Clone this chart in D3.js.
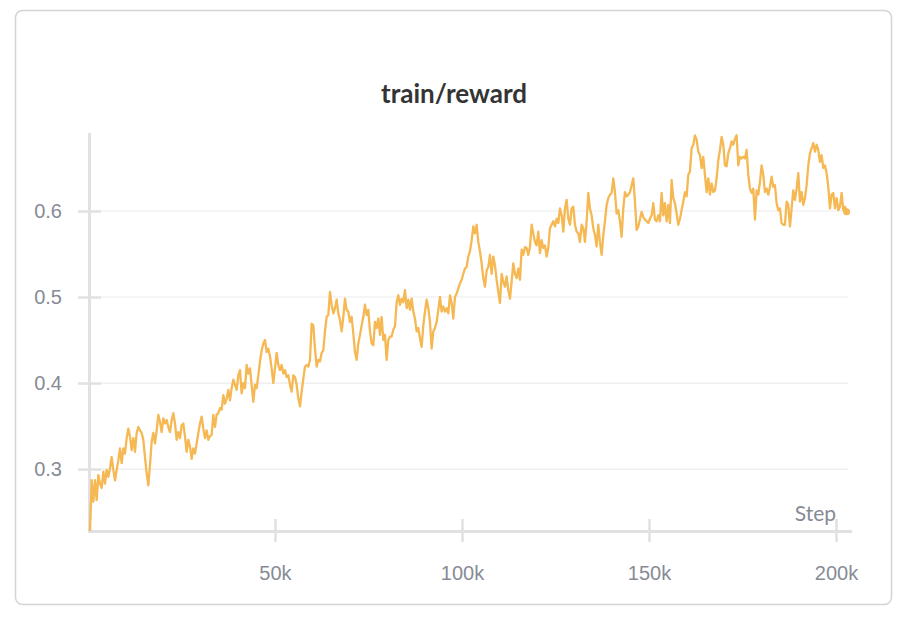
<!DOCTYPE html>
<html>
<head>
<meta charset="utf-8">
<script src="https://cdn.jsdelivr.net/npm/d3@7"></script>
<style>
  html, body { margin: 0; padding: 0; background: #fff; }
  svg { display: block; font-family: "Source Sans Pro", "Lato", "Noto Sans", sans-serif; }
</style>
</head>
<body>
<svg id="chart" width="900" height="620"></svg>
<script>
// ---- data ----
const title = "train/reward";
const xLabel = "Step";
const firstStep = 535;
const stepInterval = 445.6;

const rewardSeg1 = [
  0.228, 0.287, 0.262, 0.287, 0.264, 0.293, 0.283, 0.278, 0.297, 0.283,
  0.299, 0.291, 0.301, 0.314, 0.299, 0.287, 0.299, 0.310, 0.324, 0.307,
  0.324, 0.318, 0.336, 0.347, 0.338, 0.322, 0.336, 0.320, 0.342, 0.349,
  0.345, 0.342, 0.334, 0.314, 0.295, 0.281, 0.305, 0.332, 0.342, 0.330,
  0.345, 0.363, 0.355, 0.343, 0.359, 0.353, 0.357, 0.349, 0.343, 0.357,
  0.365, 0.353, 0.334, 0.343, 0.336, 0.351, 0.353, 0.338, 0.320, 0.334,
  0.326, 0.312, 0.324, 0.318, 0.330, 0.342, 0.353, 0.361, 0.347, 0.336,
  0.345, 0.334, 0.338, 0.340, 0.363, 0.349, 0.363, 0.365, 0.371, 0.369,
  0.386, 0.376, 0.382, 0.392, 0.380, 0.394, 0.404, 0.398, 0.392, 0.409,
  0.415, 0.388, 0.400, 0.394
];
const rewardSeg2 = [
  0.421, 0.411, 0.417, 0.398, 0.378, 0.398, 0.394, 0.409, 0.425, 0.438,
  0.446, 0.450, 0.436, 0.440, 0.431, 0.417, 0.400, 0.417, 0.435, 0.421,
  0.415, 0.421, 0.411, 0.415, 0.407, 0.409, 0.398, 0.390, 0.409, 0.407,
  0.398, 0.382, 0.373, 0.390, 0.405, 0.419, 0.421, 0.419, 0.427, 0.469,
  0.467, 0.440, 0.419, 0.427, 0.425, 0.435, 0.438, 0.460, 0.477, 0.479,
  0.506, 0.491, 0.481, 0.487, 0.497, 0.481, 0.473, 0.460, 0.477, 0.498,
  0.485, 0.483, 0.471, 0.477, 0.458, 0.436, 0.427, 0.446, 0.456, 0.467,
  0.477, 0.491, 0.479, 0.485, 0.460, 0.446, 0.444, 0.471, 0.464, 0.475,
  0.456, 0.477, 0.450, 0.456, 0.427, 0.450, 0.454, 0.454, 0.462, 0.466
];
const rewardSeg3 = [
  0.494, 0.502, 0.491, 0.498, 0.494, 0.508, 0.487, 0.497, 0.485, 0.498,
  0.483, 0.475, 0.460, 0.464, 0.452, 0.442, 0.467, 0.483, 0.497, 0.487,
  0.471, 0.440, 0.460, 0.464, 0.471, 0.485, 0.500, 0.483, 0.489, 0.483,
  0.487, 0.481, 0.502, 0.493, 0.475, 0.500, 0.504, 0.510, 0.516, 0.520,
  0.527, 0.533, 0.535, 0.547, 0.553, 0.566, 0.582, 0.574, 0.584, 0.564,
  0.553, 0.539, 0.522, 0.512, 0.531, 0.535, 0.549, 0.527, 0.547, 0.537,
  0.520, 0.506, 0.493, 0.527, 0.518, 0.512, 0.524, 0.508, 0.498, 0.518,
  0.539, 0.527, 0.522, 0.533, 0.520, 0.555, 0.549, 0.558, 0.557, 0.549,
  0.558, 0.584, 0.574, 0.564, 0.560, 0.576, 0.551, 0.566, 0.557, 0.560
];
const rewardSeg4 = [
  0.547, 0.557, 0.580, 0.584, 0.588, 0.582, 0.591, 0.586, 0.603, 0.595,
  0.576, 0.603, 0.613, 0.591, 0.584, 0.603, 0.605, 0.584, 0.576, 0.574,
  0.564, 0.584, 0.580, 0.564, 0.588, 0.621, 0.603, 0.595, 0.580, 0.572,
  0.559, 0.584, 0.564, 0.549, 0.572, 0.588, 0.607, 0.615, 0.619, 0.621,
  0.638, 0.622, 0.597, 0.601, 0.588, 0.570, 0.603, 0.622, 0.617, 0.619,
  0.622, 0.630, 0.638, 0.611, 0.578, 0.582, 0.590, 0.599, 0.593, 0.590,
  0.588, 0.586, 0.591, 0.595, 0.609, 0.590, 0.588, 0.595, 0.588, 0.621,
  0.595, 0.609, 0.588, 0.607, 0.586, 0.636, 0.615, 0.609, 0.597, 0.584,
  0.591, 0.601, 0.611, 0.622, 0.617, 0.642, 0.646, 0.673, 0.677, 0.688
];
const rewardSeg5 = [
  0.683, 0.669, 0.665, 0.650, 0.663, 0.642, 0.622, 0.638, 0.619, 0.632,
  0.622, 0.624, 0.638, 0.659, 0.671, 0.686, 0.677, 0.653, 0.652, 0.667,
  0.673, 0.681, 0.677, 0.684, 0.688, 0.653, 0.663, 0.661, 0.663, 0.661,
  0.671, 0.642, 0.626, 0.621, 0.626, 0.590, 0.624, 0.619, 0.634, 0.653,
  0.642, 0.622, 0.626, 0.619, 0.628, 0.640, 0.628, 0.630, 0.609, 0.601,
  0.603, 0.586, 0.584, 0.584, 0.611, 0.607, 0.582, 0.603, 0.624, 0.613,
  0.626, 0.644, 0.611, 0.622, 0.607, 0.615, 0.630, 0.653, 0.667, 0.673,
  0.679, 0.669, 0.677, 0.671, 0.657, 0.665, 0.650, 0.653, 0.644, 0.628,
  0.603, 0.619, 0.621, 0.603, 0.615, 0.601, 0.605, 0.621, 0.601, 0.605,
  0.599
];
const yTicks = [0.3, 0.4, 0.5, 0.6];
const yTickLabels = ["0.3", "0.4", "0.5", "0.6"];
const xTicks = [50000, 100000, 150000, 200000];
const xTickLabels = ["50k", "100k", "150k", "200k"];

// ---- build series ----
const rewards = [].concat(rewardSeg1, rewardSeg2, rewardSeg3, rewardSeg4, rewardSeg5);
const steps = rewards.map((_, i) => Math.round(firstStep + i * stepInterval));
const data = steps.map((s, i) => ({ step: s, reward: rewards[i] }));

// ---- layout ----
const svg = d3.select("#chart");
const lineColor = "#f5b852";
const axisColor = "#e1e1e3";
const gridColor = "#ebebed";
const labelColor = "#868b95";

const x = d3.scaleLinear().domain([535, 204278]).range([90, 852]);
const y = d3.scaleLinear().domain([0.228, 0.6895]).range([531, 134]);

// card
svg.append("rect")
  .attr("x", 15.5).attr("y", 10.5)
  .attr("width", 876).attr("height", 594)
  .attr("rx", 7).attr("ry", 7)
  .attr("fill", "#fff")
  .attr("stroke", "#d3d4d8")
  .attr("stroke-width", 1.5);

// title
svg.append("text")
  .attr("x", 454).attr("y", 103)
  .attr("text-anchor", "middle")
  .attr("font-size", 26).attr("font-weight", 700)
  .attr("fill", "#343434")
  .text(title);

// grid lines
svg.append("g").selectAll("line").data(yTicks).join("line")
  .attr("x1", 101).attr("x2", 848)
  .attr("y1", d => y(d)).attr("y2", d => y(d))
  .attr("stroke", gridColor).attr("stroke-width", 1.2);

// y axis
const yAxis = svg.append("g").attr("transform", "translate(101,0)")
  .call(d3.axisLeft(y).tickValues(yTicks).tickSize(23).tickPadding(16)
        .tickFormat((d, i) => yTickLabels[i]));
yAxis.select(".domain").remove();
yAxis.selectAll(".tick line").attr("stroke", axisColor).attr("stroke-width", 2.5);
yAxis.selectAll(".tick text").attr("fill", labelColor).attr("font-size", 20)
  .attr("font-family", null);

// x axis
const xAxis = svg.append("g").attr("transform", "translate(0,519)")
  .call(d3.axisBottom(x).tickValues(xTicks).tickSize(23).tickPadding(24)
        .tickFormat((d, i) => xTickLabels[i]));
xAxis.select(".domain").remove();
xAxis.selectAll(".tick line").attr("stroke", axisColor).attr("stroke-width", 2.5);
xAxis.selectAll(".tick text").attr("fill", labelColor).attr("font-size", 20)
  .attr("font-family", null);

// axis lines
svg.append("line").attr("x1", 89.5).attr("x2", 89.5).attr("y1", 133).attr("y2", 533)
  .attr("stroke", axisColor).attr("stroke-width", 3);
svg.append("line").attr("x1", 88).attr("x2", 852).attr("y1", 531.5).attr("y2", 531.5)
  .attr("stroke", axisColor).attr("stroke-width", 3);

// x label
svg.append("text")
  .attr("x", 836).attr("y", 521)
  .attr("text-anchor", "end")
  .attr("font-size", 21)
  .attr("fill", labelColor)
  .text(xLabel);

// line
const line = d3.line().x(d => x(d.step)).y(d => y(d.reward));
svg.append("path").datum(data)
  .attr("d", line)
  .attr("fill", "none")
  .attr("stroke", lineColor)
  .attr("stroke-width", 2.3)
  .attr("stroke-linejoin", "round");

const last = data[data.length - 1];
svg.append("circle")
  .attr("cx", x(last.step)).attr("cy", y(last.reward))
  .attr("r", 3.5).attr("fill", lineColor);
</script>
</body>
</html>
